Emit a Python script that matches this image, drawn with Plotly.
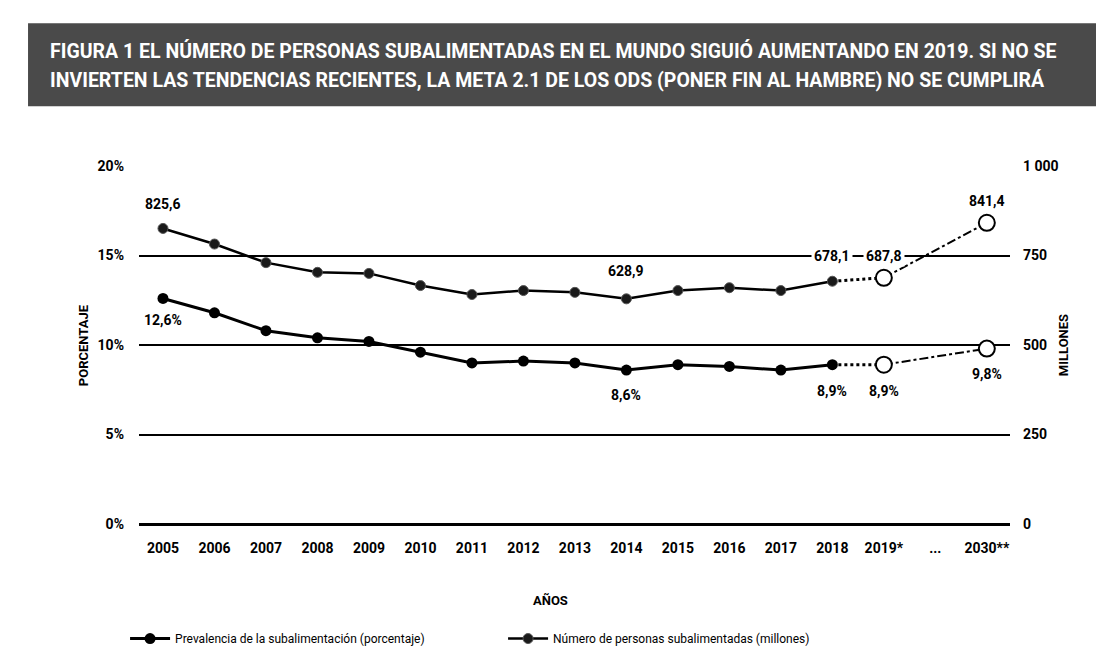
import plotly.graph_objects as go

# ---- data ----
categories = ["2005", "2006", "2007", "2008", "2009", "2010", "2011", "2012", "2013",
              "2014", "2015", "2016", "2017", "2018", "2019*", "...", "2030**"]
hist_years = categories[:14]
prevalence_hist = [12.6, 11.8, 10.8, 10.4, 10.2, 9.6, 9.0, 9.1, 9.0, 8.6, 8.9, 8.8, 8.6, 8.9]
number_hist = [825.6, 782, 730, 703, 700, 666, 641, 652, 647, 628.9, 652, 660, 652, 678.1]
proj_years = ["2019*", "2030**"]
prevalence_proj = [8.9, 9.8]
number_proj = [687.8, 841.4]
left_ticks = [0, 5, 10, 15, 20]
left_ticktext = ["0%", "5%", "10%", "15%", "20%"]
right_ticks = [0, 250, 500, 750, 1000]
right_ticktext = ["0", "250", "500", "750", "1 000"]
title_lines = ["FIGURA 1 EL NÚMERO DE PERSONAS SUBALIMENTADAS EN EL MUNDO SIGUIÓ AUMENTANDO EN 2019. SI NO SE",
               "INVIERTEN LAS TENDENCIAS RECIENTES, LA META 2.1 DE LOS ODS (PONER FIN AL HAMBRE) NO SE CUMPLIRÁ"]

FONT = "Roboto, Liberation Sans, sans-serif"
BLACK = "#000000"

def idx(cat):
    return categories.index(cat)

hx = [idx(c) for c in hist_years]
px_ = [idx(c) for c in proj_years]

fig = go.Figure()

# prevalence (left axis)
fig.add_trace(go.Scatter(x=[hx[-1], px_[0]], y=[prevalence_hist[-1], prevalence_proj[0]],
                         mode="lines", line=dict(color=BLACK, width=3, dash="dot"),
                         showlegend=False, hoverinfo="skip"))
fig.add_trace(go.Scatter(x=px_, y=prevalence_proj, mode="lines",
                         line=dict(color=BLACK, width=2, dash="dashdot"),
                         showlegend=False, hoverinfo="skip"))
fig.add_trace(go.Scatter(x=hx, y=prevalence_hist, mode="lines+markers",
                         name="Prevalencia de la subalimentación (porcentaje)",
                         line=dict(color=BLACK, width=3),
                         marker=dict(color=BLACK, size=11, symbol="circle")))
fig.add_trace(go.Scatter(x=px_, y=prevalence_proj, mode="markers",
                         marker=dict(color="white", size=16, line=dict(color=BLACK, width=2)),
                         showlegend=False))

# number (right axis)
fig.add_trace(go.Scatter(x=[hx[-1], px_[0]], y=[number_hist[-1], number_proj[0]],
                         mode="lines", yaxis="y2", line=dict(color=BLACK, width=3, dash="dot"),
                         showlegend=False, hoverinfo="skip"))
fig.add_trace(go.Scatter(x=px_, y=number_proj, mode="lines", yaxis="y2",
                         line=dict(color=BLACK, width=2, dash="dashdot"),
                         showlegend=False, hoverinfo="skip"))
fig.add_trace(go.Scatter(x=hx, y=number_hist, mode="lines+markers", yaxis="y2",
                         name="Número de personas subalimentadas (millones)",
                         line=dict(color=BLACK, width=2.5),
                         marker=dict(color="#1a1a1a", size=10, symbol="circle",
                                     line=dict(color="#555555", width=1))))
fig.add_trace(go.Scatter(x=px_, y=number_proj, mode="markers", yaxis="y2",
                         marker=dict(color="white", size=16, line=dict(color=BLACK, width=2)),
                         showlegend=False))

ann_font = dict(family=FONT, size=14, color=BLACK)
annotations = []
def lab(cat, y, text, yref, yshift, bg=None):
    d = dict(x=idx(cat), y=y, xref="x", yref=yref, text="<b>" + text + "</b>", showarrow=False,
             yshift=yshift, font=ann_font)
    if bg:
        d.update(bgcolor=bg, borderpad=2)
    annotations.append(d)

lab("2005", number_hist[0], "825,6", "y2", 24)
lab("2005", prevalence_hist[0], "12,6%", "y", -22)
lab("2014", number_hist[9], "628,9", "y2", 28)
lab("2014", prevalence_hist[9], "8,6%", "y", -25)
lab("2018", 750, "678,1", "y2", 0, bg="white")
lab("2019*", 750, "687,8", "y2", 0, bg="white")
lab("2030**", number_proj[1], "841,4", "y2", 22)
lab("2018", prevalence_hist[13], "8,9%", "y", -26)
lab("2019*", prevalence_proj[0], "8,9%", "y", -26)
lab("2030**", prevalence_proj[1], "9,8%", "y", -25)

# axis titles
annotations.append(dict(x=-0.075, y=0.5, xref="paper", yref="paper", text="<b>PORCENTAJE</b>",
                        textangle=-90, showarrow=False, font=dict(family=FONT, size=13, color=BLACK)))
annotations.append(dict(x=1.072, y=0.5, xref="paper", yref="paper", text="<b>MILLONES</b>",
                        textangle=-90, showarrow=False, font=dict(family=FONT, size=13, color=BLACK)))
annotations.append(dict(x=0.472, y=-0.24, xref="paper", yref="paper", text="<b>AÑOS</b>",
                        showarrow=False, font=dict(family=FONT, size=13, color=BLACK)))

# title (two lines on a dark banner)
for yy, line in zip([1.3208, 1.2399], title_lines):
    annotations.append(dict(x=-0.1045, y=yy, xref="paper", yref="paper", xanchor="left", yanchor="middle",
                            align="left", showarrow=False, text="<b>" + line + "</b>",
                            font=dict(family=FONT, size=19.5, color="white")))

fig.update_layout(
    width=1104, height=657,
    margin=dict(l=131, r=102, t=158, b=128),
    paper_bgcolor="white", plot_bgcolor="white",
    font=dict(family=FONT, size=13, color=BLACK),
    shapes=[dict(type="rect", xref="paper", yref="paper", x0=-0.1274, x1=1.1056, y0=1.1671, y1=1.399,
                 fillcolor="#4a4a4a", line=dict(width=0), layer="below")],
    annotations=annotations,
    xaxis=dict(range=[-0.466, 16.45], tickvals=list(range(len(categories))),
               ticktext=["<b>%s</b>" % c for c in categories],
               showgrid=False, showline=False, zeroline=False,
               ticks="", ticklabelstandoff=14,
               tickfont=dict(family=FONT, size=14, color=BLACK)),
    yaxis=dict(range=[0, 20], tickvals=left_ticks, ticktext=["<b>%s</b>" % t for t in left_ticktext],
               showgrid=True, gridcolor=BLACK, gridwidth=2, zeroline=True, zerolinecolor=BLACK,
               zerolinewidth=3, showline=False, ticks="", ticklabelstandoff=14,
               tickfont=dict(family=FONT, size=14, color=BLACK)),
    yaxis2=dict(range=[0, 1000], overlaying="y", side="right", tickvals=right_ticks,
                ticktext=["<b>%s</b>" % t for t in right_ticktext], showgrid=False, zeroline=False,
                showline=False, ticks="", ticklabelstandoff=12,
                tickfont=dict(family=FONT, size=14, color=BLACK)),
    legend=dict(orientation="h", x=-0.016, y=-0.32, xanchor="left", yanchor="middle",
                font=dict(family=FONT, size=12, color=BLACK), entrywidth=323, itemwidth=40,
                bgcolor="rgba(0,0,0,0)"),
    showlegend=True,
)

fig.write_html("out.html")
